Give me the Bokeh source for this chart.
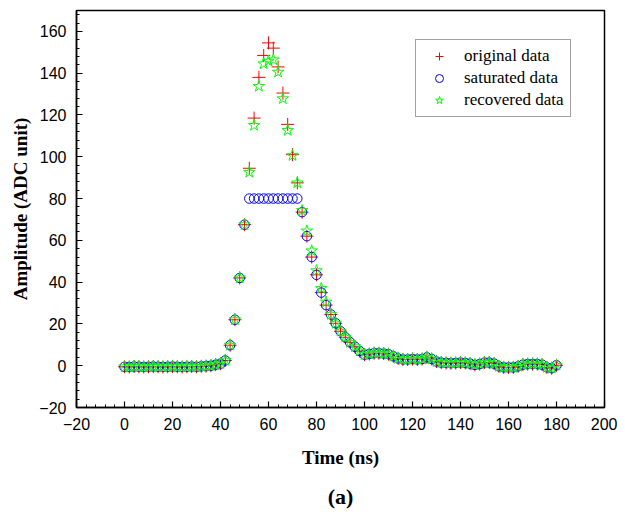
from bokeh.plotting import figure
from bokeh.models import Range1d, Legend, LegendItem, FixedTicker, ColumnDataSource, Div
from bokeh.layouts import column
from bokeh.embed import file_html
from bokeh.resources import INLINE

# ---- data ----
time_ns = list(range(0, 181, 2))

original = [-0.5, -0.6, -0.4, -0.5, -0.6, -0.5, -0.4, -0.5, -0.6, -0.5,
            -0.4, -0.5, -0.6, -0.5, -0.4, -0.5, -0.3, -0.2,
            0.0, 0.5, 1.0, 2.5, 9.8, 22.0, 42.0, 67.5, 94.5, 118.5,
            138.0, 148.5, 154.5, 152.0, 143.0, 130.5, 115.5, 101.0, 87.5, 73.5,
            62.0, 52.0, 43.5, 35.0, 29.0, 24.5, 20.3, 16.5, 13.6, 11.2,
            9.1, 7.0, 5.3, 5.6, 6.0, 6.0, 5.8, 5.5, 4.5, 3.5,
            3.0, 3.0, 3.2, 3.0, 3.2, 4.0, 3.2, 2.0, 1.5, 1.3,
            1.2, 1.3, 1.5, 1.3, 1.0, 0.4, 0.8, 1.5, 1.5, 1.0,
            -0.3, -0.8, -0.8, -0.8, -0.3, 0.5, 0.8, 0.8, 0.8, 0.5,
            -0.8, -1.2, 0.2]

saturation_level = 80.0
saturated = [min(v, saturation_level) for v in original]

recovered_peak = {52: 92.6, 54: 115.0, 56: 133.7, 58: 144.5, 60: 145.8,
                  62: 146.4, 64: 140.5, 66: 127.8, 68: 112.6, 70: 100.6,
                  72: 87.5, 74: 74.3, 76: 64.5, 78: 55.0, 80: 45.5,
                  82: 37.0, 84: 30.5}
recovered = [recovered_peak.get(t, v) for t, v in zip(time_ns, original)]

x_ticks = [-20, 0, 20, 40, 60, 80, 100, 120, 140, 160, 180, 200]
y_ticks = [-20, 0, 20, 40, 60, 80, 100, 120, 140, 160]

src = ColumnDataSource(dict(t=time_ns, orig=original, sat=saturated, rec=recovered))

p = figure(width=617, height=472, output_backend="svg", toolbar_location=None,
           x_range=Range1d(-20, 200), y_range=Range1d(-20, 170),
           min_border_left=76, min_border_right=13, min_border_top=10,
           min_border_bottom=65)
p.grid.visible = False
p.outline_line_color = "black"
p.outline_line_width = 1.5

r1 = p.scatter("t", "orig", source=src, marker="cross", size=13,
               line_color="#ff0000", fill_color="#ff0000", line_width=1)
r2 = p.scatter("t", "sat", source=src, marker="circle", size=9.5,
               line_color="#0000ff", fill_color=None, line_width=1)
r3 = p.scatter("t", "rec", source=src, marker="star", size=12,
               line_color="#00ff00", fill_color=None, line_width=1)

for ax in (p.xaxis[0], p.yaxis[0]):
    ax.major_tick_in = 6
    ax.major_tick_out = 0
    ax.minor_tick_in = 3
    ax.minor_tick_out = 0
    ax.axis_line_width = 1.5
    ax.major_tick_line_width = 1.2
    ax.major_label_text_font = "Liberation Sans"
    ax.major_label_text_font_size = "16px"
    ax.major_label_text_color = "black"
    ax.axis_label_text_font = "Liberation Serif"
    ax.axis_label_text_font_style = "bold"
    ax.axis_label_text_font_size = "19px"
    ax.axis_label_text_color = "black"

p.xaxis[0].ticker = FixedTicker(ticks=x_ticks,
                                minor_ticks=[v for v in range(-20, 201, 4)])
p.yaxis[0].ticker = FixedTicker(ticks=y_ticks,
                                minor_ticks=[v for v in range(-20, 171, 4)])
p.xaxis[0].axis_label = "Time (ns)"
p.yaxis[0].axis_label = "Amplitude (ADC unit)"
p.xaxis[0].major_label_standoff = 10
p.xaxis[0].axis_label_standoff = 14
p.yaxis[0].major_label_standoff = 10
p.yaxis[0].axis_label_standoff = 5

legend = Legend(items=[LegendItem(label="original data", renderers=[r1]),
                       LegendItem(label="saturated data", renderers=[r2]),
                       LegendItem(label="recovered data", renderers=[r3])],
                location=(339, 290))
legend.label_text_font = "Liberation Serif"
legend.label_text_font_style = "normal"
legend.label_text_font_size = "17px"
legend.label_text_color = "black"
legend.border_line_color = "#444444"
legend.border_line_width = 1.2
legend.padding = 6
legend.spacing = 2
legend.label_height = 20
legend.glyph_height = 20
legend.glyph_width = 34
legend.label_standoff = 8
legend.margin = 0
p.add_layout(legend, "center")

caption = Div(text="(a)", width=617, height=40,
              styles={"font-family": "Liberation Serif", "font-weight": "bold",
                      "font-size": "22px", "text-align": "center",
                      "padding-left": "54px", "padding-top": "4px",
                      "box-sizing": "border-box"})

layout = column(p, caption, spacing=0)
open("out.html", "w").write(file_html(layout, INLINE))
